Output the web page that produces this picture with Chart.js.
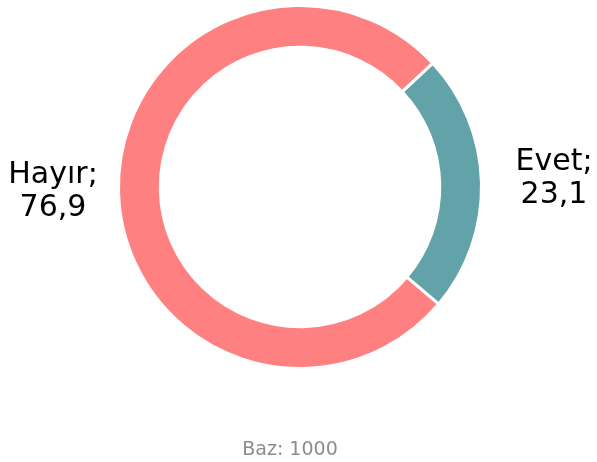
<!DOCTYPE html>
<html>
<head>
<meta charset="utf-8">
<script src="https://cdn.jsdelivr.net/npm/chart.js@4"></script>
<style>
  html, body { margin: 0; padding: 0; background: #fff; }
  #wrap { width: 597px; height: 462px; }
</style>
</head>
<body>
<div id="wrap"><canvas id="pasta"></canvas></div>
<script>
const categories = ['Evet', 'Hayır'];
const values = [23.1, 76.9];
const colors = ['#62A3AA', '#FF8080'];
const bazText = 'Baz: 1000';

// etiketler dilim dışında, iki satır (alfabetik taban çizgisi)
const labelPos = [
    { x: 554, y: 170 },
    { x: 53, y: 183 }
];

const etiketPlugin = {
    id: 'etiketler',
    afterDraw(chart) {
        const ctx = chart.ctx;
        ctx.save();
        ctx.font = '30px "DejaVu Sans"';
        ctx.fillStyle = '#000';
        ctx.textAlign = 'center';
        ctx.textBaseline = 'alphabetic';
        categories.forEach((c, i) => {
            const p = labelPos[i];
            ctx.fillText(c + ';', p.x, p.y);
            ctx.fillText(values[i].toFixed(1).replace('.', ','), p.x, p.y + 33);
        });
        ctx.font = '19px "DejaVu Sans"';
        ctx.fillStyle = '#8c8c8c';
        ctx.fillText(bazText, 290, 455);
        ctx.restore();
    }
};

const ctx = document.getElementById('pasta').getContext('2d');
new Chart(ctx, {
    type: 'doughnut',
    data: {
        labels: categories,
        datasets: [{
            data: values,
            backgroundColor: colors,
            borderColor: '#ffffff',
            borderWidth: 3
        }]
    },
    options: {
        responsive: true,
        maintainAspectRatio: false,
        animation: false,
        rotation: 47,
        cutout: '77%',
        layout: { padding: { top: 4, bottom: 92, left: 3, right: 0 } },
        plugins: {
            legend: { display: false },
            tooltip: { enabled: false }
        }
    },
    plugins: [etiketPlugin]
});
</script>
</body>
</html>
